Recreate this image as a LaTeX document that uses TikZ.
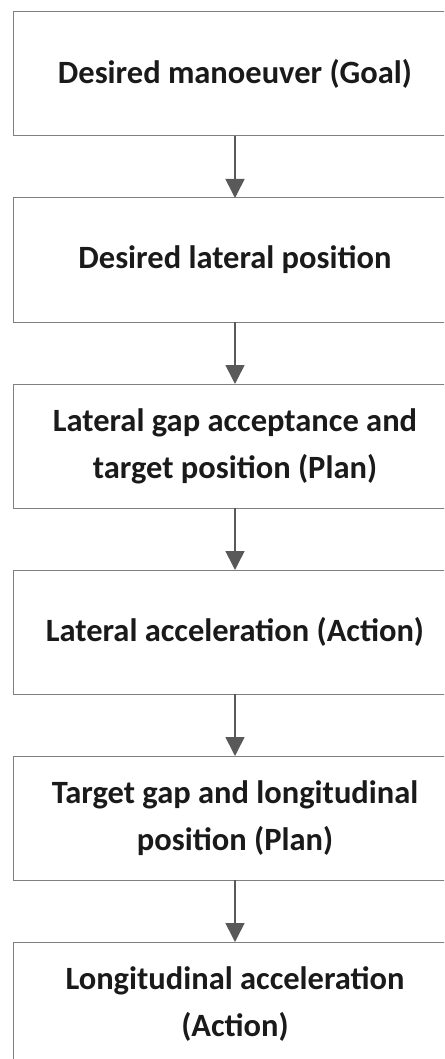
\documentclass[tikz,border=0pt]{standalone}
\usepackage{fontspec}
\setmainfont{Carlito}
\usetikzlibrary{arrows.meta,positioning}
\definecolor{edgegray}{HTML}{7F7F7F}
\definecolor{arrowgray}{HTML}{595959}
\definecolor{textblack}{HTML}{1A1A1A}
\tikzset{
	stage/.style={draw=edgegray, line width=1pt, align=center, minimum height=124pt, minimum width=444pt, inner sep=0pt, outer sep=0pt, text=textblack, font=\fontsize{32.5}{47}\selectfont\bfseries},
	flow/.style={-{Triangle[length=19pt, width=19pt]}, line width=1.6pt, draw=arrowgray, fill=arrowgray}
}

\begin{document}
\begin{tikzpicture}[node distance=62pt]
	\clip (0,0) rectangle (444pt,-1059pt);
	\useasboundingbox (0,0) rectangle (444pt,-1059pt);
	\node[stage] (goal) at (235pt,-74pt) {Desired manoeuver (Goal)};
	\node[stage, below=of goal] (latpos) {Desired lateral position};
	\node[stage, below=of latpos] (latplan) {Lateral gap acceptance and\\
		target position (Plan)};
	\node[stage, below=of latplan] (latacc) {Lateral acceleration (Action)};
	\node[stage, below=of latacc] (lonplan) {Target gap and longitudinal\\
		position (Plan)};
	\node[stage, below=of lonplan] (lonacc) {Longitudinal acceleration\\
		(Action)};
	\draw[flow] (goal) -- (latpos);
	\draw[flow] (latpos) -- (latplan);
	\draw[flow] (latplan) -- (latacc);
	\draw[flow] (latacc) -- (lonplan);
	\draw[flow] (lonplan) -- (lonacc);
\end{tikzpicture}
\end{document}
